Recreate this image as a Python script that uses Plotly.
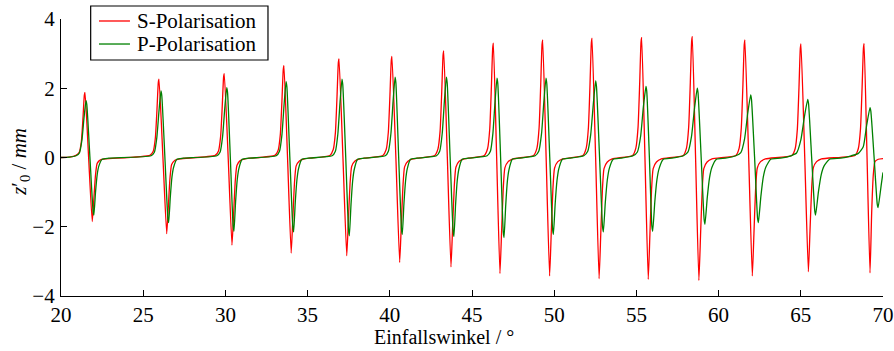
import plotly.graph_objects as go

# S-Polarisation (red), resonance by resonance
s_x = [20.00, 20.50,
       20.91, 21.11, 21.24, 21.34, 21.42, 21.46, 21.68, 21.90, 22.00, 22.10, 22.20, 22.40, 22.70,
       25.41, 25.61, 25.74, 25.84, 25.92, 25.96, 26.20, 26.43, 26.53, 26.63, 26.73, 26.93, 27.23,
       29.38, 29.58, 29.71, 29.81, 29.89, 29.93, 30.17, 30.40, 30.50, 30.60, 30.70, 30.90, 31.20,
       33.01, 33.21, 33.34, 33.44, 33.52, 33.56, 33.78, 34.00, 34.10, 34.20, 34.30, 34.50, 34.80,
       36.36, 36.56, 36.69, 36.79, 36.87, 36.91, 37.15, 37.38, 37.48, 37.58, 37.68, 37.88, 38.18,
       39.58, 39.78, 39.91, 40.01, 40.09, 40.13, 40.37, 40.60, 40.70, 40.80, 40.90, 41.10, 41.40,
       42.73, 42.93, 43.06, 43.16, 43.24, 43.28, 43.50, 43.72, 43.82, 43.92, 44.02, 44.22, 44.52,
       45.75, 45.95, 46.08, 46.18, 46.26, 46.30, 46.50, 46.70, 46.80, 46.90, 47.00, 47.20, 47.50,
       48.75, 48.95, 49.08, 49.18, 49.26, 49.30, 49.51, 49.72, 49.82, 49.92, 50.02, 50.22, 50.52,
       51.75, 51.95, 52.08, 52.18, 52.26, 52.30, 52.52, 52.73, 52.83, 52.93, 53.03, 53.23, 53.53,
       54.77, 54.97, 55.10, 55.20, 55.28, 55.32, 55.52, 55.72, 55.82, 55.92, 56.02, 56.22, 56.52,
       57.85, 58.05, 58.18, 58.28, 58.36, 58.40, 58.60, 58.80, 58.90, 59.00, 59.10, 59.30, 59.60,
       61.05, 61.25, 61.38, 61.48, 61.56, 61.60, 61.83, 62.05, 62.15, 62.25, 62.35, 62.55, 62.85,
       64.46, 64.66, 64.79, 64.89, 64.97, 65.01, 65.24, 65.46, 65.56, 65.66, 65.76, 65.96, 66.26,
       68.30, 68.50, 68.63, 68.73, 68.81, 68.85, 69.03, 69.21, 69.31, 69.41, 69.51, 69.71, 70.00]
s_y = [0.00, 0.01,
       0.06, 0.15, 0.47, 1.17, 1.80, 1.88, 0.00, -1.85, -1.18, -0.50, -0.17, -0.07, -0.04,
       0.06, 0.18, 0.57, 1.40, 2.17, 2.26, 0.00, -2.20, -1.41, -0.59, -0.20, -0.08, -0.04,
       0.06, 0.19, 0.61, 1.50, 2.32, 2.42, 0.00, -2.53, -1.62, -0.68, -0.23, -0.09, -0.04,
       0.06, 0.21, 0.66, 1.64, 2.54, 2.65, 0.00, -2.76, -1.77, -0.75, -0.25, -0.10, -0.04,
       0.06, 0.23, 0.71, 1.77, 2.74, 2.85, 0.00, -2.84, -1.82, -0.77, -0.26, -0.10, -0.04,
       0.06, 0.23, 0.73, 1.81, 2.80, 2.92, 0.00, -3.03, -1.94, -0.82, -0.27, -0.11, -0.04,
       0.06, 0.25, 0.77, 1.91, 2.96, 3.08, 0.00, -3.16, -2.02, -0.85, -0.28, -0.11, -0.04,
       0.06, 0.26, 0.83, 2.05, 3.17, 3.30, 0.00, -3.35, -2.14, -0.90, -0.30, -0.12, -0.04,
       0.06, 0.27, 0.85, 2.11, 3.26, 3.40, 0.00, -3.42, -2.19, -0.92, -0.31, -0.12, -0.04,
       0.06, 0.28, 0.86, 2.14, 3.31, 3.45, 0.00, -3.50, -2.24, -0.95, -0.32, -0.13, -0.04,
       0.06, 0.28, 0.87, 2.15, 3.33, 3.47, 0.00, -3.52, -2.25, -0.95, -0.32, -0.13, -0.04,
       0.06, 0.28, 0.88, 2.17, 3.36, 3.50, 0.00, -3.55, -2.27, -0.96, -0.32, -0.13, -0.04,
       0.06, 0.27, 0.85, 2.11, 3.26, 3.40, 0.00, -3.42, -2.19, -0.92, -0.31, -0.12, -0.04,
       0.06, 0.26, 0.82, 2.03, 3.15, 3.28, 0.00, -3.30, -2.11, -0.89, -0.30, -0.12, -0.04,
       0.06, 0.26, 0.82, 2.04, 3.16, 3.29, 0.00, -3.33, -1.60, -0.50, -0.12, -0.05, -0.03]

# P-Polarisation (green)
p_x = [20.00, 20.50,
       20.92, 21.12, 21.27, 21.40, 21.52, 21.57, 21.76, 21.95, 22.00, 22.10, 22.20, 22.30, 22.50, 22.90,
       25.48, 25.68, 25.83, 25.96, 26.08, 26.13, 26.32, 26.50, 26.55, 26.65, 26.75, 26.85, 27.05, 27.45,
       29.48, 29.68, 29.83, 29.96, 30.08, 30.13, 30.30, 30.47, 30.52, 30.62, 30.72, 30.82, 31.02, 31.42,
       33.09, 33.29, 33.44, 33.57, 33.69, 33.74, 33.92, 34.10, 34.15, 34.25, 34.35, 34.45, 34.65, 35.05,
       36.49, 36.69, 36.84, 36.97, 37.09, 37.14, 37.32, 37.49, 37.54, 37.64, 37.74, 37.84, 38.04, 38.44,
       39.72, 39.92, 40.07, 40.20, 40.32, 40.37, 40.54, 40.71, 40.76, 40.86, 40.96, 41.06, 41.26, 41.66,
       42.84, 43.04, 43.19, 43.32, 43.44, 43.49, 43.67, 43.85, 43.90, 44.00, 44.10, 44.20, 44.40, 44.80,
       45.92, 46.12, 46.27, 46.40, 46.52, 46.57, 46.74, 46.90, 46.95, 47.05, 47.15, 47.25, 47.45, 47.85,
       48.84, 49.06, 49.23, 49.37, 49.50, 49.55, 49.73, 49.90, 49.95, 50.06, 50.17, 50.28, 50.50, 50.94,
       51.80, 52.04, 52.22, 52.38, 52.52, 52.57, 52.76, 52.94, 52.99, 53.11, 53.23, 53.35, 53.59, 54.07,
       54.80, 55.06, 55.26, 55.42, 55.58, 55.63, 55.79, 55.94, 55.99, 56.12, 56.25, 56.38, 56.64, 57.16,
       57.86, 58.14, 58.35, 58.53, 58.70, 58.75, 58.94, 59.12, 59.17, 59.31, 59.45, 59.59, 59.87, 60.43,
       61.05, 61.35, 61.58, 61.77, 61.95, 62.00, 62.19, 62.37, 62.42, 62.57, 62.72, 62.87, 63.17, 63.77,
       64.40, 64.74, 65.00, 65.22, 65.42, 65.47, 65.66, 65.85, 65.90, 66.07, 66.24, 66.41, 66.75, 67.43,
       68.07, 68.50, 68.80, 69.01, 69.21, 69.26, 69.46, 69.65, 69.70, 69.89, 70.00]
p_y = [0.00, 0.01,
       0.05, 0.13, 0.49, 1.15, 1.64, 1.53, 0.00, -1.54, -1.66, -1.00, -0.50, -0.25, -0.05, -0.02,
       0.05, 0.15, 0.58, 1.34, 1.92, 1.79, 0.00, -1.75, -1.88, -1.13, -0.56, -0.28, -0.05, -0.02,
       0.05, 0.16, 0.61, 1.41, 2.02, 1.88, 0.00, -1.98, -2.13, -1.28, -0.64, -0.32, -0.05, -0.02,
       0.05, 0.18, 0.66, 1.53, 2.19, 2.04, 0.00, -2.00, -2.15, -1.29, -0.65, -0.32, -0.05, -0.02,
       0.05, 0.18, 0.68, 1.58, 2.26, 2.10, 0.00, -2.10, -2.26, -1.36, -0.68, -0.34, -0.05, -0.02,
       0.05, 0.19, 0.70, 1.62, 2.32, 2.16, 0.00, -2.06, -2.22, -1.33, -0.67, -0.33, -0.05, -0.02,
       0.05, 0.19, 0.70, 1.62, 2.32, 2.16, 0.00, -2.12, -2.28, -1.37, -0.68, -0.34, -0.05, -0.02,
       0.05, 0.18, 0.69, 1.60, 2.29, 2.13, 0.00, -2.15, -2.31, -1.39, -0.69, -0.35, -0.05, -0.02,
       0.05, 0.18, 0.69, 1.60, 2.29, 2.13, 0.00, -2.06, -2.22, -1.33, -0.67, -0.33, -0.05, -0.02,
       0.05, 0.18, 0.66, 1.55, 2.21, 2.06, 0.00, -2.00, -2.15, -1.29, -0.65, -0.32, -0.05, -0.02,
       0.05, 0.16, 0.62, 1.44, 2.05, 1.91, 0.00, -1.98, -2.13, -1.28, -0.64, -0.32, -0.05, -0.02,
       0.05, 0.16, 0.60, 1.40, 2.00, 1.86, 0.00, -1.79, -1.93, -1.16, -0.58, -0.29, -0.05, -0.02,
       0.05, 0.14, 0.54, 1.27, 1.81, 1.68, 0.00, -1.75, -1.88, -1.13, -0.56, -0.28, -0.05, -0.02,
       0.05, 0.13, 0.50, 1.18, 1.68, 1.56, 0.00, -1.54, -1.66, -1.00, -0.50, -0.25, -0.05, -0.02,
       0.05, 0.12, 0.31, 0.94, 1.44, 1.34, 0.00, -1.35, -1.45, -0.80, -0.43]

x_ticks = [20, 25, 30, 35, 40, 45, 50, 55, 60, 65, 70]
y_ticks = [-4, -2, 0, 2, 4]
series_names = ["S-Polarisation", "P-Polarisation"]
series_colors = ["#ff0000", "#008000"]
x_title = "Einfallswinkel / °"
y_title = "<i>z</i>′<sub>0</sub> / <i>mm</i>"

FONT = "Liberation Serif, DejaVu Serif, serif"
FS = 21

fig = go.Figure()
for xs, ys, name, col in [(s_x, s_y, series_names[0], series_colors[0]),
                          (p_x, p_y, series_names[1], series_colors[1])]:
    fig.add_trace(go.Scatter(x=xs, y=ys, mode="lines", name=name, showlegend=False,
                             line=dict(color=col, width=1.3, shape="spline", smoothing=0.5)))

axis_common = dict(showgrid=False, zeroline=False, showline=True, linecolor="black",
                   linewidth=1.2, ticks="inside", ticklen=6, tickcolor="black",
                   tickwidth=1.2, mirror=False, automargin=False,
                   tickfont=dict(family=FONT, size=FS, color="black"))

fig.update_xaxes(range=[20, 70], tickvals=x_ticks, ticktext=[str(t) for t in x_ticks],
                 ticklabelstandoff=0, **axis_common)
fig.update_yaxes(range=[-4, 4], tickvals=y_ticks,
                 ticktext=[("−" + str(-t)) if t < 0 else str(t) for t in y_ticks],
                 ticklabelstandoff=1, **axis_common)

fig.add_annotation(text=x_title, xref="paper", yref="paper", x=0.466, y=-0.149,
                   xanchor="center", yanchor="middle", showarrow=False, borderpad=0,
                   font=dict(family=FONT, size=20, color="black"))
fig.add_annotation(text=y_title, xref="paper", yref="paper", x=-0.05, y=0.484,
                   xanchor="center", yanchor="middle", showarrow=False, textangle=-90,
                   font=dict(family=FONT, size=FS, color="black"))

# legend box (top-left, framed)
fig.add_shape(type="rect", xref="paper", yref="paper", x0=0.0361, x1=0.2518,
              y0=0.852, y1=1.047, line=dict(color="black", width=1.2), fillcolor="white",
              layer="above")
legend_rows_y = [0.9928, 0.9097]
for name, col, ly in zip(series_names, series_colors, legend_rows_y):
    fig.add_shape(type="line", xref="paper", yref="paper", x0=0.0462, x1=0.0839,
                  y0=ly, y1=ly, line=dict(color=col, width=1.3), layer="above")
    fig.add_annotation(text=name, xref="paper", yref="paper", x=0.0895, y=ly,
                       xanchor="left", yanchor="middle", showarrow=False,
                       font=dict(family=FONT, size=FS, color="black"))

fig.update_layout(
    width=894, height=351,
    font=dict(family=FONT, size=FS, color="black"),
    margin=dict(l=61, r=11, t=19, b=55, autoexpand=False),
    paper_bgcolor="white", plot_bgcolor="white",
    showlegend=False,
)

fig.write_html("out.html", config={"displayModeBar": False},
               post_script="document.body.style.margin='0';")
